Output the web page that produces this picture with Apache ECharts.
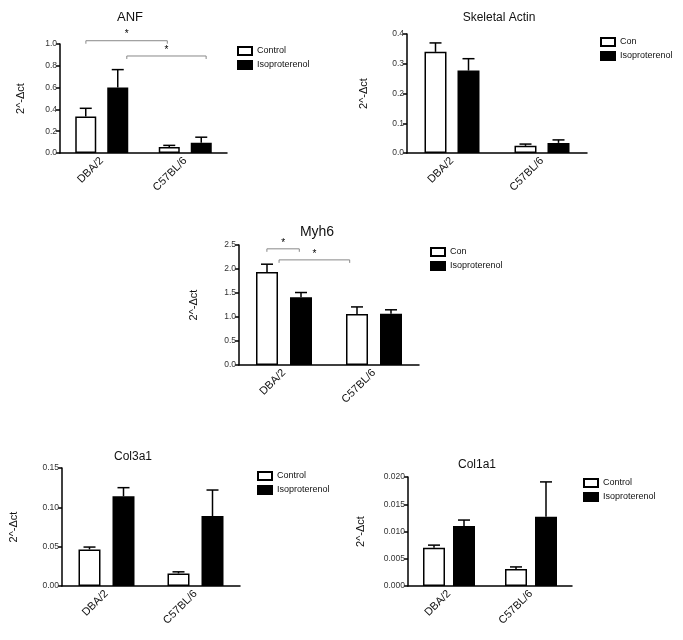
<!DOCTYPE html>
<html>
<head>
<meta charset="utf-8">
<script src="https://cdn.jsdelivr.net/npm/echarts@6/dist/echarts.min.js"></script>
<style>
	html,body{margin:0;padding:0;background:#fff;}
	#main{width:683px;height:640px;}
</style>
</head>
<body>
<div id="main"></div>
<script>
// 分组
var groups = ['DBA/2', 'C57BL/6'];

// ANF
var anfCtrl = [0.335, 0.055];
var anfCtrlSem = [0.075, 0.015];
var anfIso = [0.60, 0.095];
var anfIsoSem = [0.165, 0.05];
// [起点组, 偏移, 终点组, 偏移, 高度]
var anfSig = [[0, -0.19, 1, -0.215, 1.03], [0, 0.30, 1, 0.25, 0.89]];

// Skeletal Actin
var actCtrl = [0.34, 0.024];
var actCtrlSem = [0.03, 0.006];
var actIso = [0.277, 0.034];
var actIsoSem = [0.04, 0.01];

// Myh6
var myhCtrl = [1.94, 1.06];
var myhCtrlSem = [0.16, 0.15];
var myhIso = [1.41, 1.07];
var myhIsoSem = [0.10, 0.08];
var myhSig = [[0, -0.19, 0, 0.17, 2.42], [0, -0.055, 1, -0.27, 2.19]];

// Col3a1
var col3Ctrl = [0.0465, 0.016];
var col3CtrlSem = [0.003, 0.002];
var col3Iso = [0.114, 0.089];
var col3IsoSem = [0.011, 0.033];

// Col1a1
var col1Ctrl = [0.007, 0.0031];
var col1CtrlSem = [0.0005, 0.0004];
var col1Iso = [0.011, 0.0127];
var col1IsoSem = [0.0011, 0.0064];

var FONT = 'Liberation Sans, Arial, sans-serif';

// 各图位置
var panels = [
	{title:'ANF', tSize:13, tx:125, ty:6, names:['Control','Isoproterenol'],
	 ctrl:anfCtrl, ctrlSem:anfCtrlSem, iso:anfIso, isoSem:anfIsoSem, sig:anfSig,
	 max:1.0, step:0.2, dec:1, grid:{left:60, top:44, width:167, height:109},
	 bar:21, gap:11, nameGap:34, legend:[237, 46]},
	{title:'Skeletal Actin', tSize:12, tx:494, ty:7, names:['Con','Isoproterenol'],
	 ctrl:actCtrl, ctrlSem:actCtrlSem, iso:actIso, isoSem:actIsoSem, sig:[],
	 max:0.4, step:0.1, dec:1, grid:{left:407, top:34, width:180, height:119},
	 bar:22, gap:11, nameGap:38, legend:[600, 37]},
	{title:'Myh6', tSize:14, tx:312, ty:220, names:['Con','Isoproterenol'],
	 ctrl:myhCtrl, ctrlSem:myhCtrlSem, iso:myhIso, isoSem:myhIsoSem, sig:myhSig,
	 max:2.5, step:0.5, dec:1, grid:{left:239, top:245, width:180, height:120},
	 bar:22, gap:12, nameGap:40, legend:[430, 247]},
	{title:'Col3a1', tSize:12, tx:128, ty:446, names:['Control','Isoproterenol'],
	 ctrl:col3Ctrl, ctrlSem:col3CtrlSem, iso:col3Iso, isoSem:col3IsoSem, sig:[],
	 max:0.15, step:0.05, dec:2, grid:{left:62, top:468, width:178, height:118},
	 bar:22, gap:12, nameGap:43, legend:[257, 471]},
	{title:'Col1a1', tSize:12, tx:472, ty:454, names:['Control','Isoproterenol'],
	 ctrl:col1Ctrl, ctrlSem:col1CtrlSem, iso:col1Iso, isoSem:col1IsoSem, sig:[],
	 max:0.02, step:0.005, dec:3, grid:{left:408, top:477, width:164, height:109},
	 bar:22, gap:8, nameGap:42, legend:[583, 478]}
];

var option = {
	backgroundColor:'#fff',
	animation:false,
	textStyle:{fontFamily:FONT},
	title:[], legend:[], grid:[], xAxis:[], yAxis:[], series:[]
};

panels.forEach(function(p, i){
	var half = (p.bar + p.gap) / 2;
	option.title.push({
		text:p.title, left:p.tx, top:p.ty, textAlign:'center',
		textStyle:{fontSize:p.tSize, fontWeight:'normal', color:'#111', fontFamily:FONT}
	});
	option.legend.push({
		data:p.names, left:p.legend[0], top:p.legend[1], orient:'vertical',
		icon:'rect', itemWidth:14, itemHeight:8, itemGap:4, selectedMode:false,
		textStyle:{fontSize:9, color:'#111', fontFamily:FONT}, padding:0
	});
	option.grid.push({
		left:p.grid.left, top:p.grid.top, width:p.grid.width, height:p.grid.height,
		containLabel:false, outerBoundsMode:'none'
	});
	option.xAxis.push({
		type:'category', gridIndex:i, data:groups,
		axisLine:{lineStyle:{color:'#000', width:1.5}},
		axisTick:{alignWithLabel:true, length:4, lineStyle:{color:'#000', width:1.5}},
		axisLabel:{rotate:45, fontSize:11, color:'#111', margin:6, fontFamily:FONT},
		splitLine:{show:false}
	});
	option.yAxis.push({
		type:'value', gridIndex:i, min:0, max:p.max, interval:p.step,
		name:'2^-\u0394ct', nameLocation:'middle', nameGap:p.nameGap,
		nameTextStyle:{fontSize:11, color:'#111', fontFamily:FONT},
		axisLine:{show:true, lineStyle:{color:'#000', width:1.5}},
		axisTick:{show:true, length:4, lineStyle:{color:'#000', width:1.5}},
		axisLabel:{fontSize:8.5, color:'#333', margin:3, fontFamily:FONT,
			formatter:function(v){ return v.toFixed(p.dec); }},
		splitLine:{show:false}
	});
	var gapPct = (p.gap / p.bar * 100) + '%';
	option.series.push({
		name:p.names[0], type:'bar', xAxisIndex:i, yAxisIndex:i, data:p.ctrl,
		barWidth:p.bar, barGap:gapPct,
		itemStyle:{color:'#fff', borderColor:'#000', borderWidth:1.5}
	});
	option.series.push({
		name:p.names[1], type:'bar', xAxisIndex:i, yAxisIndex:i, data:p.iso,
		barWidth:p.bar, barGap:gapPct,
		itemStyle:{color:'#000', borderColor:'#000', borderWidth:1.5}
	});

	// 误差线
	var errs = [];
	for(var k=0;k<groups.length;k++){
		errs.push([k, p.ctrl[k], p.ctrl[k]+p.ctrlSem[k], 0]);
		errs.push([k, p.iso[k], p.iso[k]+p.isoSem[k], 1]);
	}
	option.series.push({
		name:'err'+i, type:'custom', xAxisIndex:i, yAxisIndex:i, data:errs,
		encode:{x:0, y:[1,2]}, z:3,
		renderItem:function(params, api){
			var cat = api.value(0);
			var base = api.coord([cat, api.value(1)]);
			var top = api.coord([cat, api.value(2)]);
			var x = base[0] + (api.value(3) ? half : -half);
			var st = {stroke:'#000', lineWidth:1.5};
			return {type:'group', children:[
				{type:'line', shape:{x1:x, y1:base[1], x2:x, y2:top[1]}, style:st},
				{type:'line', shape:{x1:x-6, y1:top[1], x2:x+6, y2:top[1]}, style:st}
			]};
		}
	});

	// 显著性标记
	if(p.sig.length){
		option.series.push({
			name:'sig'+i, type:'custom', xAxisIndex:i, yAxisIndex:i, data:p.sig,
			encode:{x:0, y:4}, z:3,
			renderItem:function(params, api){
				var band = api.size([1, 0])[0];
				var yv = api.value(4);
				var a = api.coord([api.value(0), yv]);
				var b = api.coord([api.value(2), yv]);
				var x1 = a[0] + api.value(1) * band;
				var x2 = b[0] + api.value(3) * band;
				var y = a[1];
				return {type:'group', children:[
					{type:'polyline', shape:{points:[[x1,y+3],[x1,y],[x2,y],[x2,y+3]]},
					 style:{stroke:'#888', lineWidth:1, fill:null}},
					{type:'text', style:{text:'*', x:(x1+x2)/2, y:y-1, align:'center',
					 verticalAlign:'bottom', fontSize:10, fill:'#000', fontFamily:FONT}}
				]};
			}
		});
	}
});

var myChart = echarts.init(document.getElementById('main'));
myChart.setOption(option);
</script>
</body>
</html>
